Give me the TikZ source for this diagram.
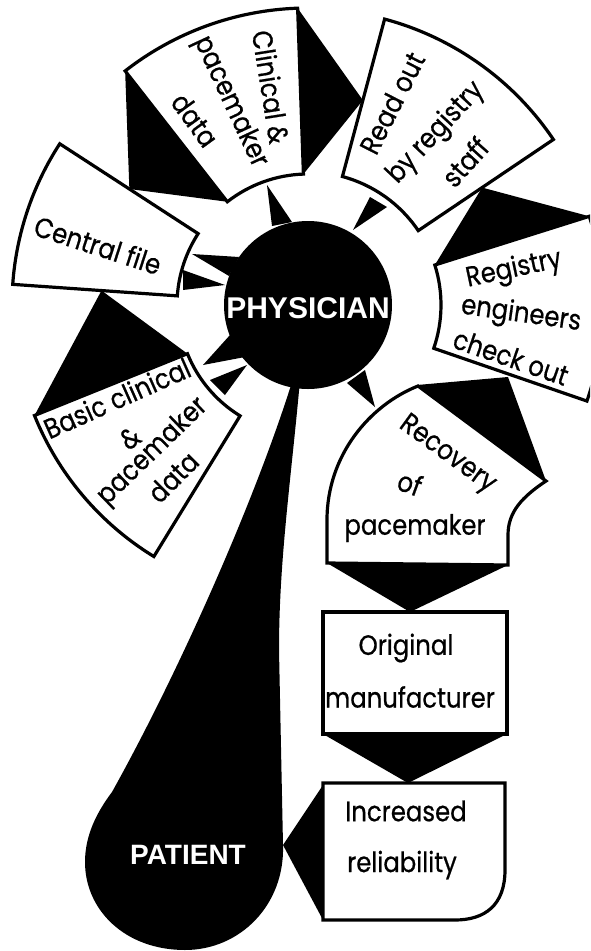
\documentclass[tikz,border=0pt]{standalone}
\usepackage{fontspec}
\setmainfont{Poppins}[FakeStretch=0.87,FakeBold=0.6]
\newfontfamily\labelbold{Liberation Sans}
\begin{document}
\begin{tikzpicture}[x=1pt,y=-1pt,
  box/.style={draw=black, fill=white, line width=3.2pt, line join=miter},
  sector/.style n args={4}{insert path={([shift={(P)}]#1:#3) -- ([shift={(P)}]#1:#4) arc[start angle=#1, end angle=#2, radius=#4] -- ([shift={(P)}]#2:#3) arc[start angle=#2, end angle=#1, radius=#3] -- cycle}},
  lbl/.style={font=\fontsize{28}{30}\selectfont, inner sep=0pt, anchor=center},
  big/.style={font=\labelbold\bfseries\fontsize{30}{32}\selectfont, text=white, inner sep=0pt}
]
\useasboundingbox (0,0) rectangle (590,951);
\clip (0,0) rectangle (590,951);
\fill[white] (0,0) rectangle (590,951);
\coordinate (P) at (308,305);

% shadows of the fan boxes
\fill ([shift={(P)}]-128:297) -- ([shift={(P)}]-128:131) -- ([shift={(P)}]-147:213) -- cycle;
\fill ([shift={(P)}]-92:297) -- ([shift={(P)}]-92:131) -- ([shift={(P)}]-75:212) -- cycle;
\fill ([shift={(P)}]-17.5:133) -- ([shift={(P)}]-17.5:295) -- ([shift={(P)}]-34:210) -- cycle;
\fill ([shift={(P)}]-202:130) -- ([shift={(P)}]-202:295) -- ([shift={(P)}]-176:207) -- cycle;
\fill (417,385) -- (508,377) -- (546,481) -- cycle;
\fill (327,563) -- (508,565) -- (410,612) -- cycle;
\fill (323,734) -- (507,734) -- (408,783) -- cycle;
\fill (323,785) -- (283,845) -- (323,920) -- cycle;

% fan boxes
\filldraw[box, sector={-92}{-128}{131}{297}];
\filldraw[box, sector={-34}{-75}{133}{296}];
\filldraw[box, sector={19}{-17.5}{133}{295}];
\filldraw[box, sector={-147}{-176}{131}{296}];
\filldraw[box, sector={-202}{-238.5}{130}{295}];

% recovery box
\filldraw[box] (418,386) -- (546,481) .. controls (522,497) and (508,512) .. (508,535) -- (508,565) -- (327,563) -- (327,520) .. controls (327,455) and (370,405) .. (418,386) -- cycle;
% original manufacturer
\filldraw[box] (323,612) rectangle (507,734);
% increased reliability
\filldraw[box] (323,783) -- (505,783) -- (505,870) .. controls (505,905) and (485,920) .. (455,920) -- (323,920) -- cycle;

% patient drop
\fill (300,380) .. controls (291,480) and (279,560) .. (279,650) -- (283,845) .. controls (285,905) and (240,950) .. (185,950) .. controls (125,950) and (85,910) .. (85,862) .. controls (85,835) and (97,812) .. (112,792) .. controls (180,670) and (255,500) .. (292,382) -- cycle;

% physician
\fill (P) circle[radius=84];
% spikes
\fill (267,185) -- (272,226) -- (292,222) -- cycle;
\fill (370,197) -- (387,207) -- (353,230) -- cycle;
\fill (192,254) -- (239,257) -- (229,276) -- cycle;
\fill (183,270) -- (183,290) -- (225,285) -- cycle;
\fill (203,365) -- (230,335) -- (245,357) -- cycle;
\fill (210,380) -- (225,395) -- (247,365) -- cycle;
\fill (347,383) -- (365,370) -- (375,407) -- cycle;

\node[big] (phys) at (308,308) {PHYSICIAN};
\node[big, font=\labelbold\bfseries\fontsize{28}{30}\selectfont] (pat) at (188,855) {PATIENT};

% labels
\node[lbl, rotate=-81] (c1) at (271,87) {Clinical \&};
\node[lbl, rotate=-65] (c2) at (230,102) {pacemaker};
\node[lbl, rotate=-54] (c3) at (195,120) {data};

\node[lbl, rotate=-18] (cf) at (98,245) {Central file};

\node[lbl, rotate=63] (r1) at (392,103) {Read out};
\node[lbl, rotate=47] (r2) at (436,133) {by registry};
\node[lbl, rotate=48] (r3) at (465,162) {staff};

\node[lbl, rotate=12] (g1) at (514,270) {Registry};
\node[lbl, rotate=-8] (g2) at (521,315) {engineers};
\node[lbl, rotate=-19] (g3) at (511,357) {check out};

\node[lbl, rotate=24] (b1) at (117,398) {Basic clinical};
\node[lbl, rotate=35] (b2) at (130,438) {\&};
\node[lbl, rotate=44] (b3) at (153,452) {pacemaker};
\node[lbl, rotate=45] (b4) at (173,477) {data};

\node[lbl, rotate=-36] (v1) at (447,455) {Recovery};
\node[lbl, rotate=-20] (v2) at (410,483) {of};
\node[lbl] (v3) at (415,528) {pacemaker};

\node[lbl] (o1) at (406,648) {Original};
\node[lbl] (o2) at (410,697) {manufacturer};

\node[lbl] (i1) at (406,811) {Increased};
\node[lbl] (i2) at (402,865) {reliability};
\end{tikzpicture}
\end{document}
